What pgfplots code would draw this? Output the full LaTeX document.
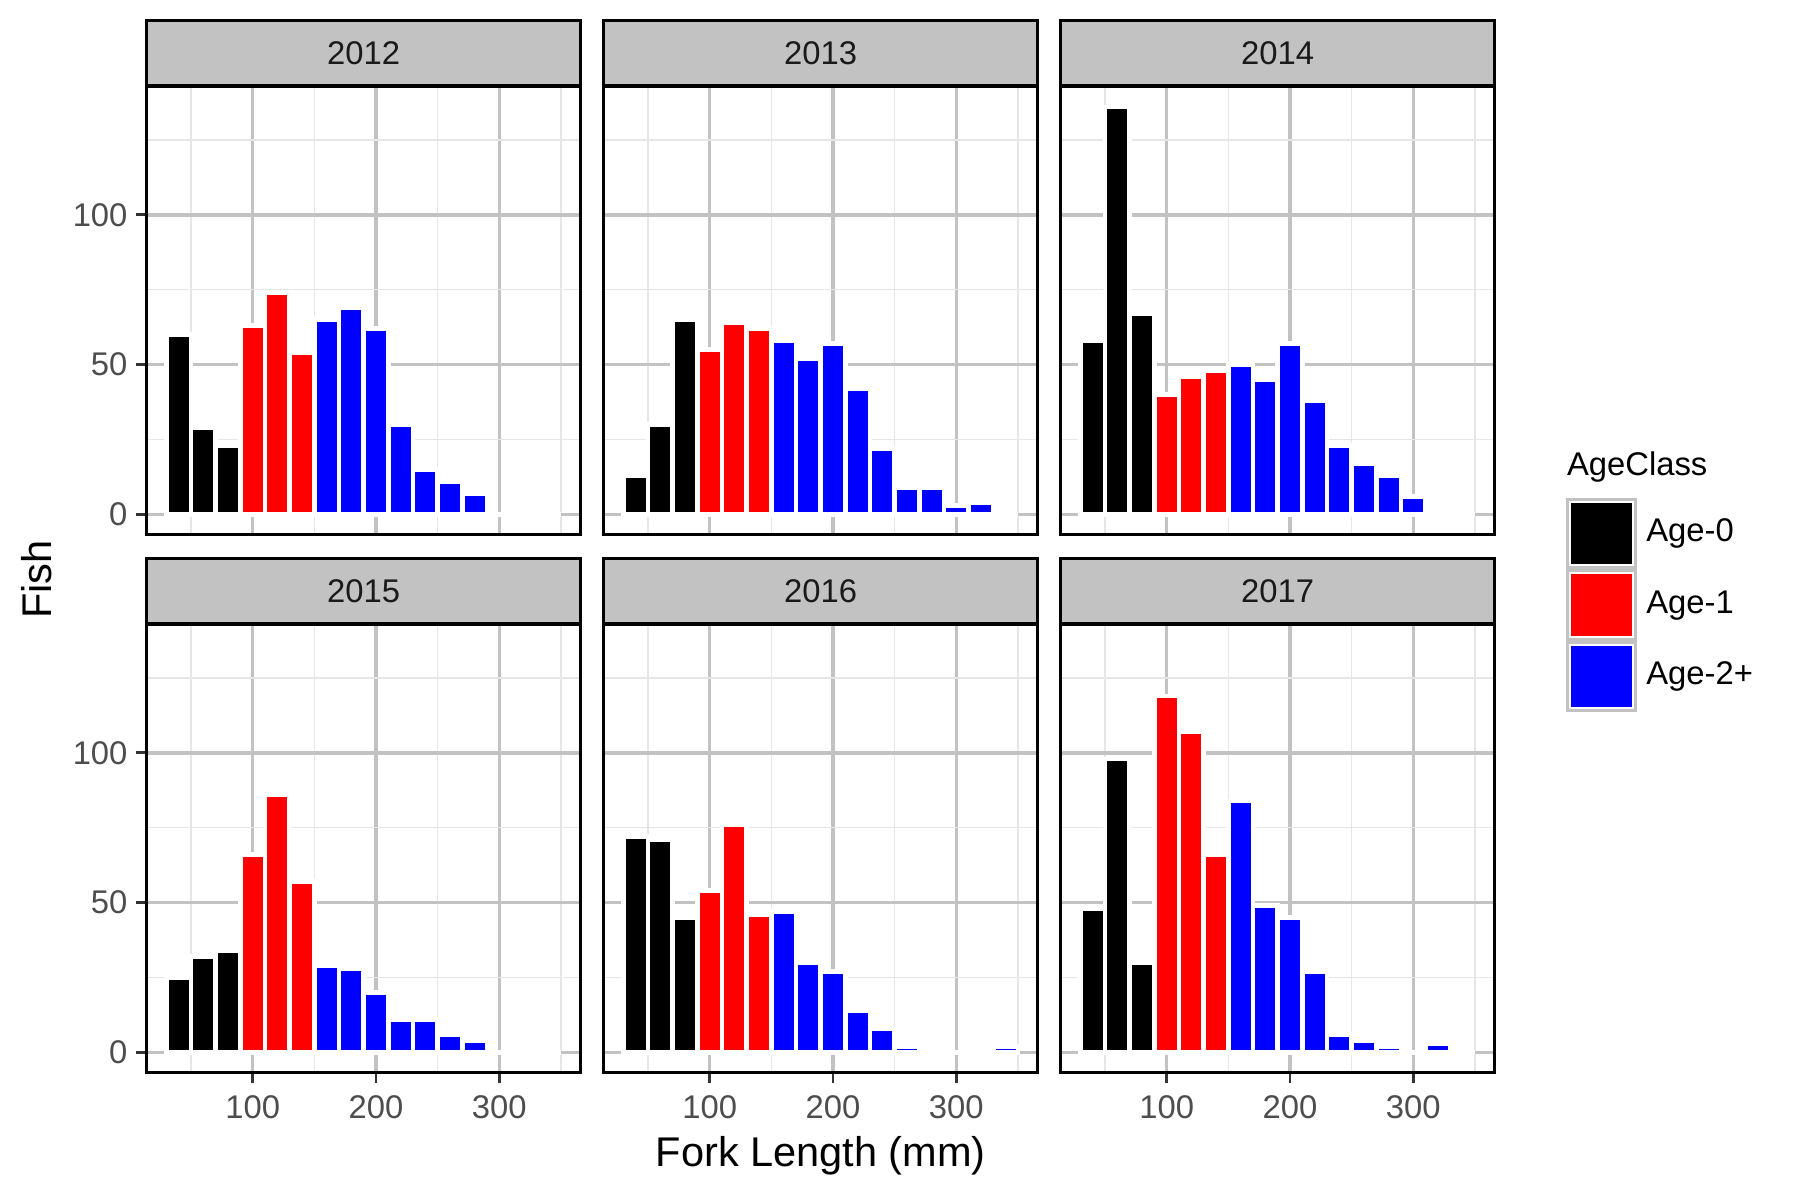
\documentclass[border=0pt]{standalone}
\usepackage{pgfplots}
\pgfplotsset{compat=1.18}
\usepackage{fontspec}
\setmainfont{Liberation Sans}

\definecolor{gridmajor}{HTML}{C2C2C2}
\definecolor{gridminor}{HTML}{E6E6E6}
\definecolor{stripfill}{HTML}{C2C2C2}
\definecolor{tickc}{HTML}{333333}
\definecolor{labelc}{HTML}{4D4D4D}
\definecolor{stripc}{HTML}{1A1A1A}

\newcommand{\smallfont}{\fontsize{7.9}{9}\selectfont}

\pgfplotsset{
  panel/.style={
    scale only axis, width=104.55pt, height=107.92pt,
    xmin=14, xmax=366, ymin=-6.8, ymax=142.8,
    xtick={100,200,300}, ytick={0,50,100},
    minor xtick={50,150,250,350}, minor ytick={25,75,125},
    grid=both,
    major grid style={color=gridmajor, line width=0.8pt},
    minor grid style={color=gridminor, line width=0.35pt},
    axis line style={black, line width=0.6pt},
    tick style={color=tickc, line width=0.7pt},
    major tick length=2.5pt, minor tick length=0pt,
    tick align=outside,
    xtick pos=bottom, ytick pos=left,
    /pgf/number format/assume math mode=true,
    ticklabel style={font=\smallfont, text=labelc},
    yticklabel style={xshift=1.4pt},
    xticklabel style={yshift=0.55pt},
  },
  noxlab/.style={xticklabels={}, xtick style={draw=none}},
  noylab/.style={yticklabels={}, ytick style={draw=none}},
  fishbar/.style={ybar, bar width=20, bar shift=0pt, fill=#1, draw=white, line width=1.1pt,
    legend image code/.code={
      \draw[draw=gridmajor, line width=0.7pt, fill=white] (0pt,-8.25pt) rectangle (16.5pt,8.25pt);
      \fill[#1] (1.4pt,-6.85pt) rectangle (15.1pt,6.85pt);}},
}

\newcommand{\strip}[2]{%
  \draw[fill=stripfill, draw=black, line width=0.6pt] ([yshift=0.4pt]#1.north west) rectangle ([yshift=15.9pt]#1.north east);
  \node[font=\smallfont, text=stripc] at ([yshift=8.15pt]#1.north) {#2};}

\begin{document}
\begin{tikzpicture}
\useasboundingbox (0pt,0pt) rectangle (433.38pt,-288.84pt);

% 2012
\begin{axis}[panel, noxlab, name=a1, at={(35.34pt,-20.89pt)}, anchor=north west]
\addplot[fishbar=black] coordinates {(40,60) (60,29) (80,23)};
\addplot[fishbar=red] coordinates {(100,63) (120,74) (140,54)};
\addplot[fishbar=blue] coordinates {(160,65) (180,69) (200,62) (220,30) (240,15) (260,11) (280,7) (300,0) (320,0) (340,0)};
\end{axis}
\strip{a1}{2012}

% 2013
\begin{axis}[panel, noxlab, noylab, name=a2, at={(145.43pt,-20.89pt)}, anchor=north west]
\addplot[fishbar=black] coordinates {(40,13) (60,30) (80,65)};
\addplot[fishbar=red] coordinates {(100,55) (120,64) (140,62)};
\addplot[fishbar=blue] coordinates {(160,58) (180,52) (200,57) (220,42) (240,22) (260,9) (280,9) (300,3) (320,4) (340,0)};
\end{axis}
\strip{a2}{2013}

% 2014
\begin{axis}[panel, noxlab, noylab, name=a3, at={(255.52pt,-20.89pt)}, anchor=north west]
\addplot[fishbar=black] coordinates {(40,58) (60,136) (80,67)};
\addplot[fishbar=red] coordinates {(100,40) (120,46) (140,48)};
\addplot[fishbar=blue] coordinates {(160,50) (180,45) (200,57) (220,38) (240,23) (260,17) (280,13) (300,6) (320,0) (340,0)};
\end{axis}
\strip{a3}{2014}

% 2015
\begin{axis}[panel, name=a4, at={(35.34pt,-150.49pt)}, anchor=north west]
\addplot[fishbar=black] coordinates {(40,25) (60,32) (80,34)};
\addplot[fishbar=red] coordinates {(100,66) (120,86) (140,57)};
\addplot[fishbar=blue] coordinates {(160,29) (180,28) (200,20) (220,11) (240,11) (260,6) (280,4) (300,0) (320,0) (340,0)};
\end{axis}
\strip{a4}{2015}

% 2016
\begin{axis}[panel, noylab, name=a5, at={(145.43pt,-150.49pt)}, anchor=north west]
\addplot[fishbar=black] coordinates {(40,72) (60,71) (80,45)};
\addplot[fishbar=red] coordinates {(100,54) (120,76) (140,46)};
\addplot[fishbar=blue] coordinates {(160,47) (180,30) (200,27) (220,14) (240,8) (260,2) (280,0) (300,0) (320,0) (340,2)};
\end{axis}
\strip{a5}{2016}

% 2017
\begin{axis}[panel, noylab, name=a6, at={(255.52pt,-150.49pt)}, anchor=north west,
  legend style={at={(1.162,1.285)}, anchor=north west, draw=none, fill=none,
    inner sep=0pt, row sep=0pt, column sep=2.2pt, font=\smallfont,
    nodes={inner sep=0pt}},
  legend cell align=left]
\addplot[fishbar=black] coordinates {(40,48) (60,98) (80,30)};
\addplot[fishbar=red] coordinates {(100,119) (120,107) (140,66)};
\addplot[fishbar=blue] coordinates {(160,84) (180,49) (200,45) (220,27) (240,6) (260,4) (280,2) (300,0) (320,3) (340,0)};
\addlegendentry{Age-0}
\addlegendentry{Age-1}
\addlegendentry{Age-2+}
\end{axis}
\strip{a6}{2017}

\node[anchor=base west, inner sep=0pt, font=\smallfont] at (377.3pt,-114.6pt) {AgeClass};
\node[anchor=base, font=\fontsize{10}{12}\selectfont] at (197.7pt,-281.1pt) {Fork Length (mm)};
\node[anchor=base, rotate=90, font=\fontsize{10}{12}\selectfont] at (12.4pt,-139.6pt) {Fish};
\end{tikzpicture}
\end{document}
